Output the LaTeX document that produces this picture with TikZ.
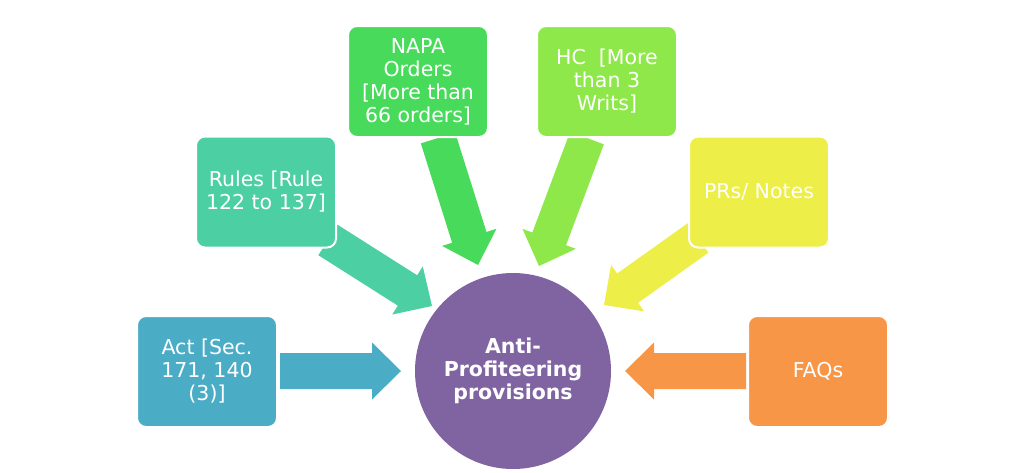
\documentclass[tikz,border=0pt]{standalone}
\usepackage{fontspec}
\setmainfont{DejaVu Sans}
\usetikzlibrary{calc,backgrounds}
\definecolor{cAct}{RGB}{75,172,198}
\definecolor{cRules}{RGB}{75,207,163}
\definecolor{cNapa}{RGB}{72,218,90}
\definecolor{cHC}{RGB}{142,232,74}
\definecolor{cPR}{RGB}{237,238,71}
\definecolor{cFAQ}{RGB}{247,150,70}
\definecolor{cMain}{RGB}{128,100,162}
\tikzset{
  srcbox/.style={draw=white, line width=2pt, rounded corners=9pt, minimum width=140pt, minimum height=111pt, text=white, align=center, font=\fontsize{20.5}{23}\selectfont, inner sep=1pt},
  mainc/.style={circle, fill=cMain, minimum size=196pt, inner sep=0pt, text=white, align=center, font=\bfseries\fontsize{20.5}{23}\selectfont},
}
\newcommand{\blockarrow}[3]{%
  \fill[#3] ($(#1)!18pt!90:(#2)$) --
    ($($(#2)!29pt!(#1)$)!18pt!90:(#2)$) --
    ($($(#2)!29pt!(#1)$)!28.5pt!90:(#2)$) --
    (#2) --
    ($($(#2)!29pt!(#1)$)!28.5pt!-90:(#2)$) --
    ($($(#2)!29pt!(#1)$)!18pt!-90:(#2)$) --
    ($(#1)!18pt!-90:(#2)$) -- cycle;}
\begin{document}
\begin{tikzpicture}[x=1pt,y=-1pt]
\useasboundingbox (0,0) rectangle (1035,472);
\node[mainc] (main) at (513,371) {Anti-\\Profiteering\\provisions};
\node[srcbox, fill=cAct] (act) at (207,371.5) {Act [Sec.\\171, 140\\(3)]};
\node[srcbox, fill=cRules] (rules) at (266,192) {Rules [Rule\\122 to 137]};
\node[srcbox, fill=cNapa] (napa) at (418,81.5) {NAPA\\Orders\\{[More than}\\66 orders]};
\node[srcbox, fill=cHC] (hc) at (607,81.5) {HC\ \ [More\\than 3\\Writs]};
\node[srcbox, fill=cPR] (pr) at (759,192) {PRs/ Notes};
\node[srcbox, fill=cFAQ] (faq) at (818,371.5) {FAQs};
% arrow anchors
\coordinate (a1s) at (280,371);   \coordinate (a1e) at (401,371);
\coordinate (a2s) at (328,240);   \coordinate (a2e) at (432,306);
\coordinate (a3s) at (438,138);   \coordinate (a3e) at (478,265);
\coordinate (a4s) at (587,138);   \coordinate (a4e) at (539,266);
\coordinate (a5s) at (698,238);   \coordinate (a5e) at (604,305);
\coordinate (a6s) at (746,371);   \coordinate (a6e) at (625,371);
\begin{pgfonlayer}{background}
\blockarrow{a1s}{a1e}{cAct}
\blockarrow{a2s}{a2e}{cRules}
\blockarrow{a3s}{a3e}{cNapa}
\blockarrow{a4s}{a4e}{cHC}
\blockarrow{a5s}{a5e}{cPR}
\blockarrow{a6s}{a6e}{cFAQ}
\end{pgfonlayer}
\end{tikzpicture}
\end{document}
